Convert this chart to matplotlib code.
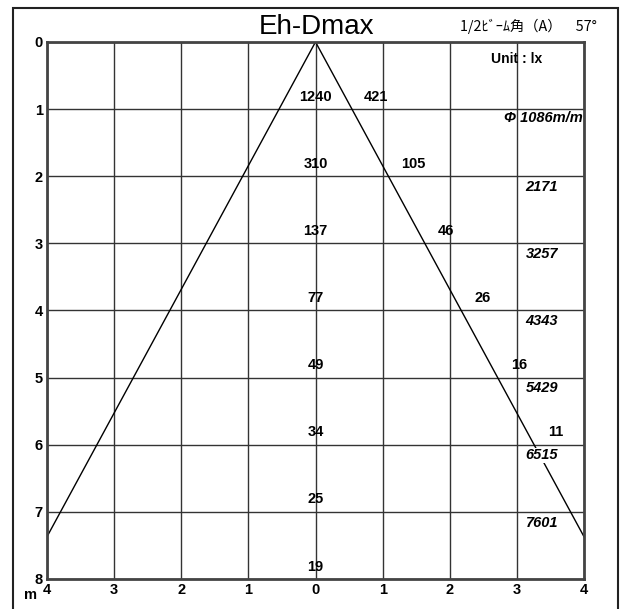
import matplotlib
matplotlib.use('Agg')
import matplotlib.pyplot as plt
from matplotlib import font_manager
from matplotlib.patches import Rectangle

# depth (m) and illuminance values
depth = [1, 2, 3, 4, 5, 6, 7, 8]
center_lux = [1240, 310, 137, 77, 49, 34, 25, 19]
edge_lux = [421, 105, 46, 26, 16, 11]
edge_x = [0.90, 1.46, 1.94, 2.49, 3.04, 3.58]
diameters = ['Φ 1086m/m', '2171', '3257', '4343', '5429', '6515', '7601']
beam_x = [-4, 0, 4]
beam_y = [7.37, 0, 7.37]
x_ticks = [-4, -3, -2, -1, 0, 1, 2, 3, 4]
x_labels = ['4', '3', '2', '1', '0', '1', '2', '3', '4']
y_ticks = [0, 1, 2, 3, 4, 5, 6, 7, 8]

names = {f.name for f in font_manager.fontManager.ttflist}
num_font = ['Liberation Sans Narrow'] if 'Liberation Sans Narrow' in names else ['Liberation Sans']
num_font = num_font + ['DejaVu Sans']
fs = 10.5

fig = plt.figure(figsize=(6.26, 6.09), dpi=100)
ax = fig.add_axes([0.0751, 0.0493, 0.8578, 0.8818])

ax.set_xlim(-4, 4)
ax.set_ylim(8, 0)
ax.set_xticks(x_ticks)
ax.set_xticklabels(x_labels)
ax.set_yticks(y_ticks)
ax.tick_params(length=0, pad=3)
for lab in ax.get_xticklabels() + ax.get_yticklabels():
    lab.set_fontfamily(num_font)
    lab.set_fontweight('bold')
    lab.set_fontsize(fs)
ax.grid(True, color='#333333', linewidth=1.0)
ax.set_axisbelow(True)
for s in ax.spines.values():
    s.set_linewidth(2)
    s.set_color('#444444')

ax.plot(beam_x, beam_y, color='black', linewidth=1.0, zorder=2)

for d, v in zip(depth, center_lux):
    ax.text(0, d - 0.08, str(v), ha='center', va='bottom', fontsize=fs,
            fontweight='bold', family=num_font, zorder=3)

for d, v, x in zip(depth, edge_lux, edge_x):
    ax.text(x, d - 0.08, str(v), ha='center', va='bottom', fontsize=fs,
            fontweight='bold', family=num_font, zorder=3)

for d, t in zip(depth, diameters):
    if t.startswith('Φ'):
        ax.text(3.98, d + 0.14, t, ha='right', va='center', fontsize=fs,
                fontweight='bold', style='italic', family=num_font, zorder=3)
    else:
        ax.text(3.13, d + 0.16, t, ha='left', va='center', fontsize=fs,
                fontweight='bold', style='italic', family=num_font, zorder=4,
                bbox=dict(facecolor='white', edgecolor='none', pad=0.5))

ax.text(3.0, 0.25, 'Unit : lx', ha='center', va='center', fontsize=10,
        fontweight='bold', family=num_font)

fig.text(0.506, 0.955, 'Eh-Dmax', ha='center', va='center', fontsize=20,
         family=['Liberation Sans', 'DejaVu Sans'])
fig.text(0.953, 0.956, '1/2ﾋﾞｰﾑ角（A）　57°', ha='right', va='center', fontsize=10.3,
         family=['Noto Sans CJK JP', 'DejaVu Sans'])
fig.text(0.048, 0.023, 'm', ha='center', va='center', fontsize=fs,
         fontweight='bold', family=num_font)

fig.patches.append(Rectangle((0.0208, -0.02), 0.9665, 1.0069, transform=fig.transFigure,
                             fill=False, edgecolor='#222222', linewidth=1.5))

fig.savefig('out.png', dpi=100)
